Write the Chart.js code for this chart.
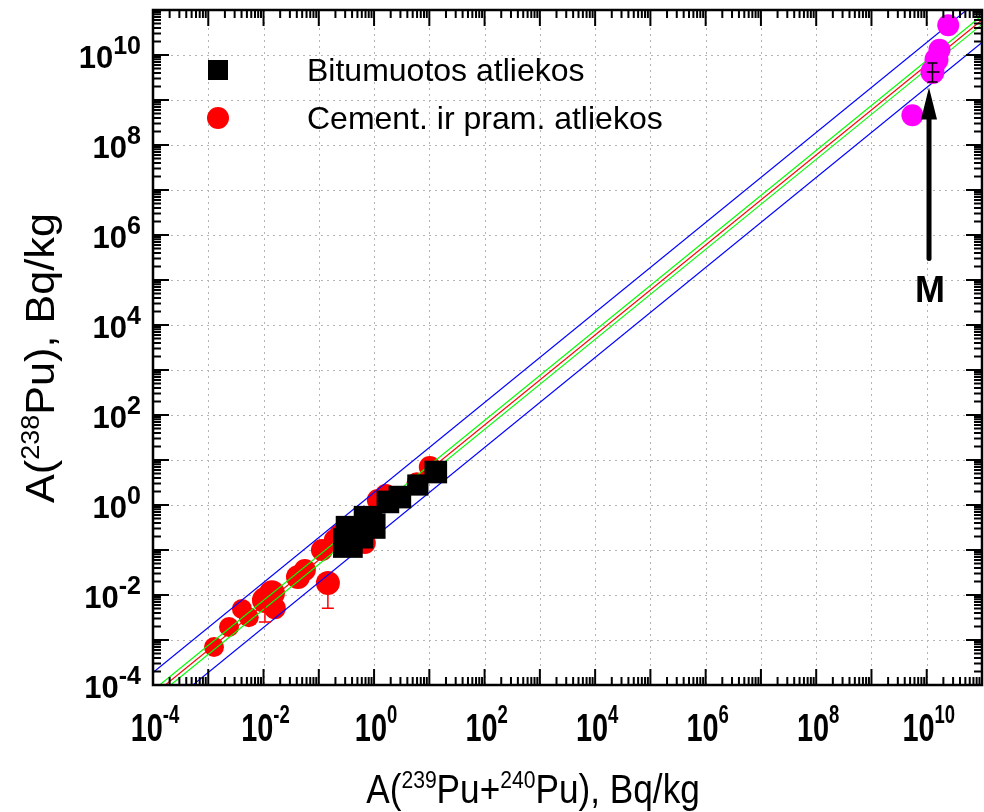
<!DOCTYPE html>
<html>
<head>
<meta charset="utf-8">
<script src="https://cdn.jsdelivr.net/npm/chart.js@4.4.0/dist/chart.umd.min.js"></script>
<style>
  body { margin: 0; background: #fff; }
  canvas { display: block; }
</style>
</head>
<body>
<canvas id="plot" width="984" height="812"></canvas>
<script>
// decades that get a label
const xPowers = [-4, -2, 0, 2, 4, 6, 8, 10];
const yPowers = [-4, -2, 0, 2, 4, 6, 8, 10];

const legendLabels = ["Bitumuotos atliekos", "Cement. ir pram. atliekos"];

// bitumuotos atliekos (black squares)
const bitX = [0.336, 0.365, 0.553, 0.773, 0.95, 1.78, 2.93, 6.2, 13.1];
const bitY = [0.143, 0.278, 0.215, 0.464, 0.34, 1.17, 1.5, 2.78, 5.4];

// cement. ir pram. atliekos (red circles)
const cemX = [1.27e-3, 2.37e-3, 4.07e-3, 5.4e-3, 0.0106, 0.0142, 0.016, 0.042, 0.056,
  0.114, 0.146, 0.24, 0.195, 0.68, 0.45, 1.17, 1.63, 5.9, 10.2];
const cemY = [7.0e-4, 1.95e-3, 4.9e-3, 3.2e-3, 7.7e-3, 0.011, 5.1e-3, 0.025, 0.036,
  0.1, 0.0185, 0.215, 0.167, 0.143, 0.31, 1.29, 1.67, 3.2, 7.0];
// lower end of the error bar (null = hidden under the marker)
const cemYLow = [null, null, null, null, 2.5e-3, null, null, null, null,
  null, 5.1e-3, null, null, null, null, null, null, null, null];

// M samples (magenta)
const mX = [5.5e9, 1.27e10, 1.5e10, 1.7e10, 2.45e10];
const mY = [4.6e8, 4.2e9, 7.8e9, 1.3e10, 4.6e10];
const mErrX = [1.0e10, 1.7e10];
const mErrY = [2.5e9, 6.6e9];

// regression line and bands
const lineX = [1e-4, 1e11];
const fitY = [6.0e-5, 6.0e10];
const confHiY = [7.6e-5, 7.6e10];
const confLoY = [4.8e-5, 4.8e10];
const predHiY = [1.9e-4, 1.9e11];
const predLoY = [1.9e-5, 1.9e10];

// arrow pointing at M
const arrowX = 1.1e10;
const arrowY = [3.0e5, 1.9e9];
const arrowLabelY = 6e4;

// marker sizes (style)
const bitRadius = [21, 20, 19, 20, 18, 16, 16, 15, 16];
const cemRadius = [10, 10, 10, 10, 13, 13, 11, 12, 11, 11, 12, 11, 11, 11, 11, 11, 11, 10, 11];
const mRadius = [11, 12, 12, 11, 11];

const pts = (xs, ys) => xs.map((x, i) => ({ x: x, y: ys[i] }));

function lineSet(ys, color) {
  return {
    type: "line",
    data: pts(lineX, ys),
    borderColor: color,
    borderWidth: 1.2,
    pointRadius: 0,
    fill: false,
    order: 2
  };
}

const FONT = "'Liberation Sans', Arial, sans-serif";

// write 10^n, anchored by align ('right' or 'center')
function drawPow(ctx, x, y, n, baseSize, expSize, align, sx) {
  const base = "10";
  const exp = String(n);
  ctx.save();
  ctx.translate(x, y);
  ctx.scale(sx, 1);
  ctx.font = "bold " + baseSize + "px " + FONT;
  const bw = ctx.measureText(base).width;
  ctx.font = "bold " + expSize + "px " + FONT;
  const ew = ctx.measureText(exp).width;
  let left = align === "right" ? -(bw + ew) : -(bw + ew) / 2;
  ctx.fillStyle = "#000";
  ctx.textBaseline = "alphabetic";
  ctx.textAlign = "left";
  ctx.font = "bold " + baseSize + "px " + FONT;
  ctx.fillText(base, left, baseSize * 0.36);
  ctx.font = "bold " + expSize + "px " + FONT;
  ctx.fillText(exp, left + bw, -baseSize * 0.1);
  ctx.restore();
}

// text runs with superscripts: [[text, isSup], ...]
function drawRich(ctx, parts, size, supSize) {
  let w = 0;
  parts.forEach(p => {
    ctx.font = (p[1] ? supSize : size) + "px " + FONT;
    w += ctx.measureText(p[0]).width;
  });
  let x = -w / 2;
  parts.forEach(p => {
    ctx.font = (p[1] ? supSize : size) + "px " + FONT;
    ctx.fillText(p[0], x, p[1] ? -size * 0.38 : 0);
    x += ctx.measureText(p[0]).width;
  });
}

const decor = {
  id: "decor",
  beforeDatasetsDraw(chart) {
    const ctx = chart.ctx;
    const a = chart.chartArea;
    const xs = chart.scales.x, ys = chart.scales.y;
    ctx.save();
    ctx.strokeStyle = "#b4b4b4";
    ctx.lineWidth = 1;
    ctx.setLineDash([2, 4]);
    for (let d = -3; d <= 10; d++) {
      const px = Math.round(xs.getPixelForValue(Math.pow(10, d))) + 0.5;
      ctx.beginPath(); ctx.moveTo(px, a.top); ctx.lineTo(px, a.bottom); ctx.stroke();
      const py = Math.round(ys.getPixelForValue(Math.pow(10, d))) + 0.5;
      ctx.beginPath(); ctx.moveTo(a.left, py); ctx.lineTo(a.right, py); ctx.stroke();
    }
    ctx.restore();
  },
  afterDatasetsDraw(chart) {
    const ctx = chart.ctx;
    const a = chart.chartArea;
    const xs = chart.scales.x, ys = chart.scales.y;
    ctx.save();

    // error bars
    ctx.strokeStyle = "#ff0000";
    ctx.lineWidth = 1.5;
    cemYLow.forEach((lo, i) => {
      if (lo === null) return;
      const px = xs.getPixelForValue(cemX[i]);
      const py = ys.getPixelForValue(cemY[i]);
      const pl = ys.getPixelForValue(lo);
      ctx.beginPath();
      ctx.moveTo(px, py); ctx.lineTo(px, pl);
      ctx.moveTo(px - 6, pl); ctx.lineTo(px + 6, pl);
      ctx.stroke();
    });
    ctx.strokeStyle = "#000";
    ctx.lineWidth = 1.5;
    {
      const px = xs.getPixelForValue(mX[1]);
      const py = ys.getPixelForValue(mY[1]);
      const x1 = xs.getPixelForValue(mErrX[0]), x2 = xs.getPixelForValue(mErrX[1]);
      const y1 = ys.getPixelForValue(mErrY[0]), y2 = ys.getPixelForValue(mErrY[1]);
      ctx.beginPath();
      ctx.moveTo(x1, py); ctx.lineTo(x2, py);
      ctx.moveTo(px, y1); ctx.lineTo(px, y2);
      ctx.moveTo(px - 5, y1); ctx.lineTo(px + 5, y1);
      ctx.moveTo(px - 5, y2); ctx.lineTo(px + 5, y2);
      ctx.stroke();
    }

    // inward ticks on all four sides
    ctx.strokeStyle = "#000";
    ctx.lineWidth = 2;
    ctx.beginPath();
    for (let d = -4; d <= 10; d++) {
      for (let m = 1; m <= 9; m++) {
        const v = m * Math.pow(10, d);
        const len = m === 1 ? 16 : 8;
        const px = xs.getPixelForValue(v);
        if (px >= a.left && px <= a.right) {
          ctx.moveTo(px, a.bottom); ctx.lineTo(px, a.bottom - len);
          ctx.moveTo(px, a.top); ctx.lineTo(px, a.top + len);
        }
        const py = ys.getPixelForValue(v);
        if (py >= a.top && py <= a.bottom) {
          ctx.moveTo(a.left, py); ctx.lineTo(a.left + len, py);
          ctx.moveTo(a.right, py); ctx.lineTo(a.right - len, py);
        }
      }
    }
    ctx.stroke();

    // frame
    ctx.lineWidth = 2.5;
    ctx.strokeRect(a.left, a.top, a.right - a.left, a.bottom - a.top);

    // tick labels
    yPowers.forEach(n => {
      const py = ys.getPixelForValue(Math.pow(10, n));
      drawPow(ctx, 141, py + 2, n, 31, 25, "right", 1);
    });
    xPowers.forEach(n => {
      const px = xs.getPixelForValue(Math.pow(10, n));
      drawPow(ctx, px + 2, a.bottom + 42, n, 39, 25, "center", 0.74);
    });

    // axis titles
    ctx.fillStyle = "#000";
    ctx.textAlign = "left";
    ctx.textBaseline = "alphabetic";
    ctx.save();
    ctx.translate(533, 803);
    ctx.scale(0.88, 1);
    drawRich(ctx, [["A(", false], ["239", true], ["Pu+", false], ["240", true], ["Pu), Bq/kg", false]], 40, 24);
    ctx.restore();

    ctx.save();
    ctx.translate(54, 358);
    ctx.rotate(-Math.PI / 2);
    ctx.scale(1.08, 1);
    drawRich(ctx, [["A(", false], ["238", true], ["Pu), Bq/kg", false]], 40, 25);
    ctx.restore();

    // legend
    ctx.fillStyle = "#000";
    ctx.fillRect(208, 60, 20, 20);
    ctx.fillStyle = "#ff0000";
    ctx.beginPath(); ctx.arc(218, 118, 11, 0, Math.PI * 2); ctx.fill();
    ctx.fillStyle = "#000";
    ctx.font = "32px " + FONT;
    ctx.textBaseline = "middle";
    ctx.fillText(legendLabels[0], 307, 72);
    ctx.fillText(legendLabels[1], 307, 120);

    // arrow and M
    const ax = xs.getPixelForValue(arrowX);
    const ab = ys.getPixelForValue(arrowY[0]);
    const at = ys.getPixelForValue(arrowY[1]);
    ctx.strokeStyle = "#000";
    ctx.lineWidth = 5;
    ctx.lineCap = "round";
    ctx.beginPath(); ctx.moveTo(ax, ab); ctx.lineTo(ax, at + 25); ctx.stroke();
    ctx.beginPath();
    ctx.moveTo(ax, at);
    ctx.lineTo(ax - 8, at + 32);
    ctx.lineTo(ax + 8, at + 32);
    ctx.closePath();
    ctx.fill();
    ctx.font = "bold 36px " + FONT;
    ctx.textAlign = "center";
    ctx.textBaseline = "middle";
    ctx.fillText("M", ax + 1, ys.getPixelForValue(arrowLabelY) + 2);

    ctx.restore();
  }
};

new Chart(document.getElementById("plot"), {
  type: "scatter",
  data: {
    datasets: [
      {
        data: pts(mX, mY),
        backgroundColor: "#ff00ff",
        borderWidth: 0,
        pointRadius: mRadius,
        pointStyle: "circle",
        order: 0
      },
      {
        data: pts(bitX, bitY),
        backgroundColor: "#000",
        borderWidth: 0,
        pointRadius: bitRadius,
        pointStyle: "rect",
        order: 1
      },
      lineSet(predHiY, "#0000ff"),
      lineSet(predLoY, "#0000ff"),
      lineSet(confHiY, "#00ff00"),
      lineSet(confLoY, "#00ff00"),
      lineSet(fitY, "#ff0000"),
      {
        data: pts(cemX, cemY),
        backgroundColor: "#ff0000",
        borderWidth: 0,
        pointRadius: cemRadius,
        pointStyle: "circle",
        order: 3
      }
    ]
  },
  options: {
    responsive: false,
    animation: false,
    devicePixelRatio: 1,
    layout: { autoPadding: false, padding: { left: 153, right: 2, top: 10, bottom: 127 } },
    plugins: { legend: { display: false }, tooltip: { enabled: false } },
    scales: {
      x: { type: "logarithmic", display: false, min: 1e-4, max: 1e11 },
      y: { type: "logarithmic", display: false, min: 1e-4, max: 1e11 }
    }
  },
  plugins: [decor]
});
</script>
</body>
</html>
